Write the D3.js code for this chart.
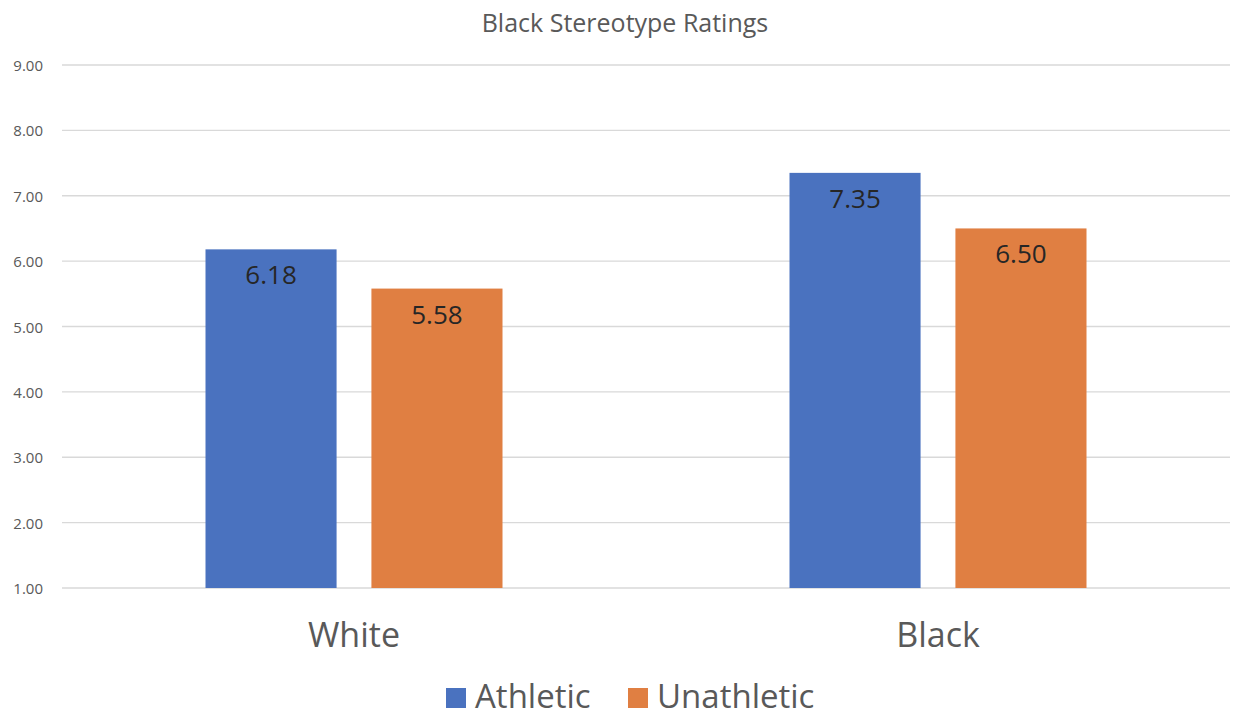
<!DOCTYPE html>
<html>
<head>
<meta charset="utf-8">
<script src="https://cdn.jsdelivr.net/npm/d3@7"></script>
<style>
  body { margin: 0; background: #fff; }
  text { font-family: "Open Sans", "Liberation Sans", sans-serif; }
</style>
</head>
<body>
<div id="chart-area"></div>
<script>
// data
var categories = ['White', 'Black'];
var seriesNames = ['Athletic', 'Unathletic'];
var athletic = [6.18, 7.35];
var unathletic = [5.58, 6.50];
var yTicks = [1, 2, 3, 4, 5, 6, 7, 8, 9];

var def = {
    width: 1233,
    height: 719,
    left: 62,
    right: 1230,
    top: 65,
    bottom: 588,
    colors: ['#4A72BF', '#E07F42']
};

var svg = d3.select('#chart-area').append('svg')
    .attr('width', def.width)
    .attr('height', def.height);

// scales
var x = d3.scaleBand()
    .domain(categories)
    .range([def.left, def.right]);

var x1 = d3.scaleBand()
    .domain(seriesNames)
    .range([0, 297])
    .paddingInner(0.21);

var y = d3.scaleLinear()
    .domain([1, 9])
    .range([def.bottom, def.top]);

// title
svg.append('text')
    .attr('x', 625)
    .attr('y', 32)
    .attr('text-anchor', 'middle')
    .attr('font-size', '25px')
    .attr('fill', '#595959')
    .text('Black Stereotype Ratings');

// gridlines
svg.append('g').selectAll('line')
    .data(yTicks)
    .enter().append('line')
    .attr('x1', def.left)
    .attr('x2', def.right)
    .attr('y1', d => y(d))
    .attr('y2', d => y(d))
    .attr('stroke', '#d9d9d9')
    .attr('stroke-width', 1.3);

// y labels
svg.append('g').selectAll('text')
    .data(yTicks)
    .enter().append('text')
    .attr('x', 43)
    .attr('y', d => y(d) + 6)
    .attr('text-anchor', 'end')
    .attr('font-size', '15px')
    .attr('fill', '#595959')
    .text(d => d.toFixed(2));

// bars
var rows = categories.map((c, i) => ({
    cat: c,
    vals: [{ s: 'Athletic', v: athletic[i] }, { s: 'Unathletic', v: unathletic[i] }]
}));

var groups = svg.append('g').selectAll('g')
    .data(rows)
    .enter().append('g')
    .attr('transform', d => 'translate(' + (x(d.cat) + x.bandwidth() / 2 - 148.5) + ',0)');

groups.selectAll('rect')
    .data(d => d.vals)
    .enter().append('rect')
    .attr('x', d => x1(d.s))
    .attr('width', x1.bandwidth())
    .attr('y', d => y(d.v))
    .attr('height', d => y(1) - y(d.v))
    .attr('fill', (d, i) => def.colors[i]);

groups.selectAll('text')
    .data(d => d.vals)
    .enter().append('text')
    .attr('x', d => x1(d.s) + x1.bandwidth() / 2)
    .attr('y', d => y(d.v) + 35)
    .attr('text-anchor', 'middle')
    .attr('font-size', '26px')
    .attr('fill', '#262626')
    .text(d => d.v.toFixed(2));

// category labels
svg.append('g').selectAll('text')
    .data(categories)
    .enter().append('text')
    .attr('x', d => x(d) + x.bandwidth() / 2)
    .attr('y', 647)
    .attr('text-anchor', 'middle')
    .attr('font-size', '34px')
    .attr('fill', '#595959')
    .text(d => d);

// legend
var legX = [446, 628];
var leg = svg.append('g').selectAll('g')
    .data(seriesNames)
    .enter().append('g')
    .attr('transform', (d, i) => 'translate(' + legX[i] + ',688)');

leg.append('rect')
    .attr('width', 20)
    .attr('height', 20)
    .attr('fill', (d, i) => def.colors[i]);

leg.append('text')
    .attr('x', 29)
    .attr('y', 20)
    .attr('font-size', '33px')
    .attr('fill', '#595959')
    .text(d => d);
</script>
</body>
</html>
